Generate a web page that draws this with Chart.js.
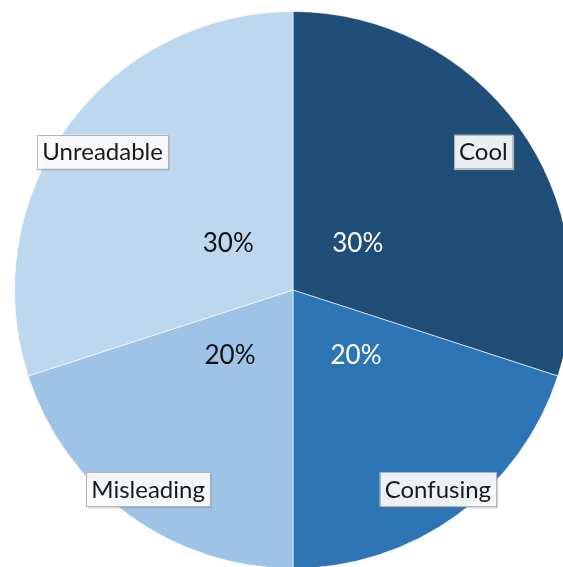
<!DOCTYPE html>
<html>
<head>
<meta charset="utf-8">
<script src="https://cdn.jsdelivr.net/npm/chart.js@4"></script>
<style>
  html, body { margin: 0; padding: 0; background: #fff; overflow: hidden; }
  #wrap { position: absolute; left: 14px; top: 11px; width: 558px; height: 558px; }
</style>
</head>
<body>
<div id="wrap"><canvas id="myChart"></canvas></div>
<script>
// Chart data
const categories = ['Cool', 'Confusing', 'Misleading', 'Unreadable'];
const shares = [30, 20, 20, 30]; // percent
const sliceColors = ['#1F4E79', '#2E75B6', '#9DC3E6', '#BDD7EE'];
const percentColors = ['#ffffff', '#ffffff', '#111111', '#111111'];

const fontFamily = 'Lato, "Liberation Sans", sans-serif';

// Draws the boxed category names and the percent labels from each arc's geometry
const sliceLabels = {
    id: 'sliceLabels',
    afterDatasetsDraw(chart) {
        const ctx = chart.ctx;
        const meta = chart.getDatasetMeta(0);
        ctx.save();
        ctx.textAlign = 'center';
        ctx.textBaseline = 'middle';
        meta.data.forEach((arc, i) => {
            const p = arc.getProps(['x', 'y', 'startAngle', 'endAngle', 'outerRadius'], true);
            const mid = (p.startAngle + p.endAngle) / 2;
            const dx = Math.cos(mid), dy = Math.sin(mid);

            // percent label, kept clear of the vertical divider
            const r1 = 80;
            let px = dx * r1;
            px = Math.sign(px) * Math.max(Math.abs(px), 63);
            ctx.font = '26px ' + fontFamily;
            ctx.fillStyle = percentColors[i];
            ctx.fillText(shares[i] + '%', p.x + px, p.y + dy * r1 + 1);

            // category label in a box near the rim
            const big = shares[i] >= 30;
            const r2 = p.outerRadius * (big ? 0.845 : 0.885);
            const lx = p.x + dx * r2, ly = p.y + dy * r2;
            ctx.font = '24px ' + fontFamily;
            const w = ctx.measureText(categories[i]).width + 10;
            const h = 34;
            ctx.fillStyle = 'rgba(120,120,120,0.3)';
            ctx.fillRect(lx - w / 2 + 2, ly - h / 2 + 2, w, h);
            ctx.fillStyle = 'rgba(255,255,255,0.9)';
            ctx.fillRect(lx - w / 2, ly - h / 2, w, h);
            ctx.strokeStyle = '#b4b4b4';
            ctx.lineWidth = 1;
            ctx.strokeRect(Math.round(lx - w / 2) + 0.5, Math.round(ly - h / 2) + 0.5, Math.round(w), h);
            ctx.fillStyle = '#1a1a1a';
            ctx.fillText(categories[i], lx, ly + 1);
        });
        ctx.restore();
    }
};

let ctx = document.getElementById('myChart').getContext('2d');
let myChart = new Chart(ctx, {
    type: 'pie',
    data: {
        labels: categories,
        datasets: [{
            data: shares,
            backgroundColor: sliceColors,
            borderColor: 'rgba(255,255,255,0.6)',
            borderWidth: 1
        }]
    },
    options: {
        responsive: true,
        maintainAspectRatio: false,
        animation: false,
        layout: { padding: 0 },
        plugins: {
            legend: { display: false },
            tooltip: { enabled: false }
        }
    },
    plugins: [sliceLabels]
});
</script>
</body>
</html>
